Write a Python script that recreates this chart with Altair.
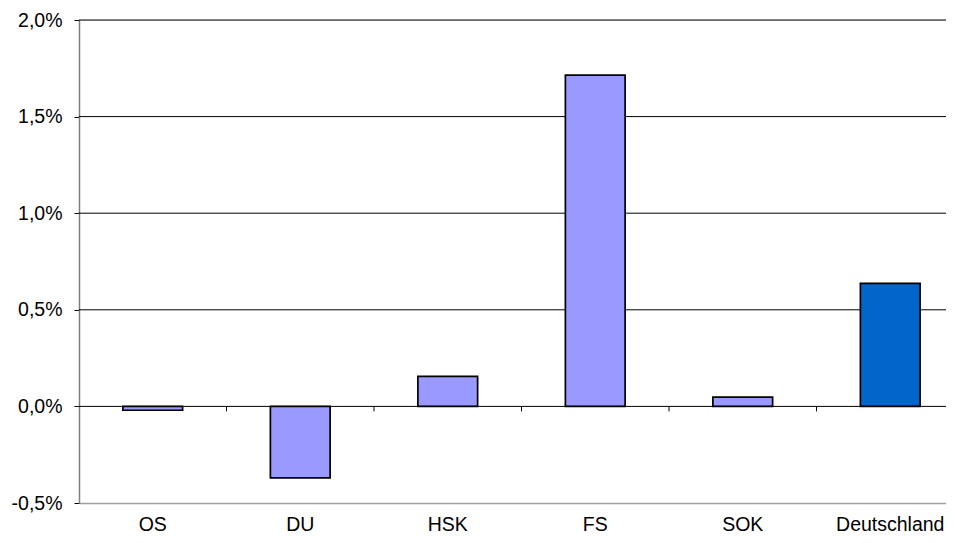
import altair as alt
import pandas as pd

categories = ["OS", "DU", "HSK", "FS", "SOK", "Deutschland"]
values = [-0.0002, -0.0037, 0.00155, 0.01715, 0.00048, 0.00637]
groups = ["Kreis", "Kreis", "Kreis", "Kreis", "Kreis", "Land"]
grid_values = [0.005, 0.01, 0.015, 0.02]
y_ticks = [-0.005, 0.0, 0.005, 0.01, 0.015, 0.02]

df = pd.DataFrame({"cat": categories, "val": values, "grp": groups})
grid_df = pd.DataFrame({"g": grid_values})
tick_df = pd.DataFrame({"cat": categories[1:], "y0": [0.0] * 5, "y1": [-0.00026] * 5})

FONT = "Liberation Sans"
FS = 19.5

xscale = alt.Scale(domain=categories, paddingInner=0, paddingOuter=0)
yscale = alt.Scale(domain=[-0.005, 0.02], nice=False, zero=False)

yaxis = alt.Axis(
    values=y_ticks,
    labelExpr="replace(replace(format(datum.value, '.1%'), '.', ','), '\u2212', '-')",
    grid=False, domainColor="#808080", domainWidth=1.5,
    tickColor="#000000", tickSize=5, labelFont=FONT, labelFontSize=FS,
    labelColor="#000000", labelPadding=12, title=None,
)
xaxis = alt.Axis(
    ticks=False, domainColor="#a0a0a0", domainWidth=1.5, labelAngle=0,
    labelFont=FONT, labelFontSize=FS, labelColor="#000000",
    labelPadding=12, title=None,
)

grid = alt.Chart(grid_df).mark_rule(color="#000000", strokeWidth=1).encode(
    y=alt.Y("g:Q", scale=yscale, axis=yaxis)
)

bars = alt.Chart(df).mark_bar(
    width=alt.RelativeBandSize(0.405), stroke="#000000", strokeWidth=1.7
).encode(
    x=alt.X("cat:N", scale=xscale, axis=xaxis, sort=categories),
    y=alt.Y("val:Q", scale=yscale, axis=yaxis),
    color=alt.Color("grp:N", scale=alt.Scale(domain=["Kreis", "Land"], range=["#9999FF", "#0066CC"]), legend=None),
)

zero = alt.Chart(pd.DataFrame({"z": [0.0]})).mark_rule(color="#000000", strokeWidth=1).encode(
    y=alt.Y("z:Q", scale=yscale)
)

ticks = alt.Chart(tick_df).mark_rule(color="#000000", strokeWidth=1).encode(
    x=alt.X("cat:N", scale=xscale, sort=categories, bandPosition=0),
    y=alt.Y("y0:Q", scale=yscale),
    y2="y1:Q",
)

chart = alt.layer(grid, bars, zero, ticks).properties(
    width=885, height=483,
    autosize=alt.AutoSizeParams(type="none"),
    padding={"left": 71, "top": 12, "right": -18, "bottom": 32},
).configure_view(stroke=None).configure(background="#ffffff")

chart.save("out.html", embed_options={"renderer": "svg", "actions": False})
